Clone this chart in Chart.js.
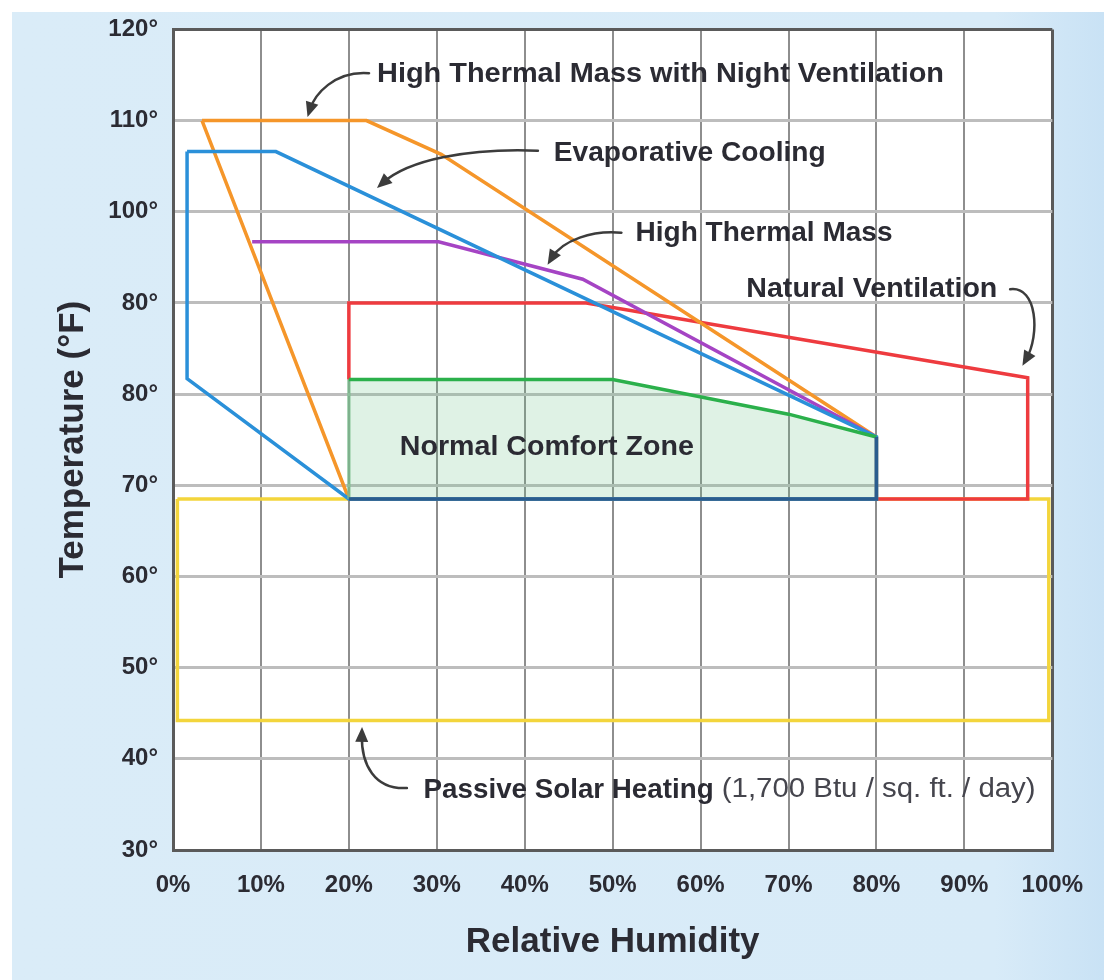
<!DOCTYPE html>
<html>
<head>
<meta charset="utf-8">
<title>Passive Design Strategies</title>
<script src="https://cdn.jsdelivr.net/npm/chart.js@4.4.1/dist/chart.umd.min.js"></script>
<style>
  html, body { margin: 0; padding: 0; background: #fff; }
  #wrap { width: 1104px; height: 980px; }
</style>
</head>
<body>
<div id="wrap"><canvas id="chart" width="1104" height="980"></canvas></div>
<script>
// axis ticks
var rhTicks = [0, 10, 20, 30, 40, 50, 60, 70, 80, 90, 100];
var tempTicks = [30, 40, 50, 60, 70, 80, 90, 100, 110, 120];
var tempTickLabels = ['30°', '40°', '50°', '60°', '70°', '80°', '80°', '100°', '110°', '120°'];

// zone outlines: relative humidity (%) / temperature (°F)
var nightVentRH   = [3.3, 22, 30.5, 80, 80, 20, 3.3];
var nightVentTemp = [110, 110, 106.3, 75.3, 68.5, 68.5, 110];

var evapRH   = [1.6, 11.7, 80, 80, 20, 1.6, 1.6];
var evapTemp = [106.6, 106.6, 75.3, 68.5, 68.5, 81.7, 106.6];

var massRH   = [9, 30.2, 46.6, 80];
var massTemp = [96.7, 96.7, 92.6, 75.3];

var ventRH   = [20, 20, 47, 97.2, 97.2, 80];
var ventTemp = [81.6, 90, 90, 81.8, 68.5, 68.5];

var comfortRH   = [20, 20, 50, 70, 80, 80, 20];
var comfortTemp = [68.5, 81.6, 81.6, 77.8, 75.3, 68.5, 68.5];

var solarRH   = [0.5, 99.6, 99.6, 0.5, 0.5];
var solarTemp = [68.5, 68.5, 44.2, 44.2, 68.5];

var FONT = '"Liberation Sans", Arial, Helvetica, sans-serif';
var INK = '#2b2b33';

function toPoints(xs, ys) {
  return xs.map(function(x, i) { return { x: x, y: ys[i] }; });
}

// edge colours of the comfort zone, one per segment
var comfortEdges = ['rgba(120,190,140,0.7)', '#2bb04b', '#2bb04b', '#2bb04b', '#2b5d8e', '#2b5d8e'];

// callouts: text anchor and arrow (bezier) in data units
var notes = [
  { text: 'High Thermal Mass with Night Ventilation', rh: 23.2, temp: 115.1, width: 567,
    arrow: [[22.3, 115.2], [18.3, 115.5], [16.1, 112.8], [15.3, 110.4]] },
  { text: 'Evaporative Cooling', rh: 43.3, temp: 106.4, width: 272,
    arrow: [[41.5, 106.7], [33.6, 107.0], [26.8, 105.7], [23.2, 102.6]] },
  { text: 'High Thermal Mass', rh: 52.6, temp: 97.6, width: 257,
    arrow: [[51.0, 97.7], [47.7, 98.0], [44.3, 96.9], [42.6, 94.2]] },
  { text: 'Natural Ventilation', rh: 65.2, temp: 91.5, width: 251,
    arrow: [[95.2, 91.5], [98.3, 91.9], [98.6, 86.5], [96.6, 83.1]] },
  { text: 'Normal Comfort Zone', rh: 25.8, temp: 74.2, width: 294 },
  { text: 'Passive Solar Heating', rh: 28.5, temp: 36.6, width: 290,
    after: ' (1,700 Btu / sq. ft. / day)', afterWidth: 322,
    arrow: [[26.6, 36.8], [22.9, 36.6], [21.4, 39.4], [21.5, 43.5]] }
];

function fitText(ctx, text, x, y, width) {
  var w = ctx.measureText(text).width;
  var sx = width ? width / w : 1;
  ctx.save();
  ctx.translate(x, y);
  ctx.scale(sx, 1);
  ctx.fillText(text, 0, 0);
  ctx.restore();
  return w * sx;
}

function drawArrow(ctx, p) {
  ctx.beginPath();
  ctx.moveTo(p[0][0], p[0][1]);
  var ang = Math.atan2(p[3][1] - p[2][1], p[3][0] - p[2][0]);
  var ex = p[3][0] - 8 * Math.cos(ang), ey = p[3][1] - 8 * Math.sin(ang);
  ctx.bezierCurveTo(p[1][0], p[1][1], p[2][0], p[2][1], ex, ey);
  ctx.stroke();
  var len = 15, half = 6.5;
  var bx = p[3][0] - len * Math.cos(ang), by = p[3][1] - len * Math.sin(ang);
  ctx.beginPath();
  ctx.moveTo(p[3][0], p[3][1]);
  ctx.lineTo(bx + half * Math.sin(ang), by - half * Math.cos(ang));
  ctx.lineTo(bx - half * Math.sin(ang), by + half * Math.cos(ang));
  ctx.closePath();
  ctx.fill();
}

var backdrop = {
  id: 'backdrop',
  beforeDraw: function(chart) {
    var ctx = chart.ctx, a = chart.chartArea;
    ctx.save();
    ctx.fillStyle = '#ffffff';
    ctx.fillRect(0, 0, chart.width, chart.height);
    var g = ctx.createLinearGradient(12, 0, chart.width, 0);
    g.addColorStop(0, '#daecf8');
    g.addColorStop(0.9, '#d8ebf8');
    g.addColorStop(1, '#c9e2f5');
    ctx.fillStyle = g;
    ctx.fillRect(12, 12, chart.width - 12, chart.height - 12);
    ctx.fillStyle = '#ffffff';
    ctx.fillRect(a.left, a.top, a.right - a.left, a.bottom - a.top);
    ctx.restore();
  }
};

var callouts = {
  id: 'callouts',
  afterDatasetsDraw: function(chart) {
    var ctx = chart.ctx, xs = chart.scales.x, ys = chart.scales.y;
    ctx.save();
    ctx.strokeStyle = '#3c3c3c';
    ctx.fillStyle = '#3c3c3c';
    ctx.lineWidth = 2.5;
    ctx.lineCap = 'round';
    notes.forEach(function(n) {
      if (n.arrow) {
        drawArrow(ctx, n.arrow.map(function(q) {
          return [xs.getPixelForValue(q[0]), ys.getPixelForValue(q[1])];
        }));
      }
    });
    ctx.textBaseline = 'middle';
    ctx.textAlign = 'left';
    notes.forEach(function(n) {
      var x = xs.getPixelForValue(n.rh), y = ys.getPixelForValue(n.temp);
      ctx.fillStyle = INK;
      ctx.font = 'bold 28px ' + FONT;
      var w = fitText(ctx, n.text, x, y, n.width);
      if (n.after) {
        ctx.fillStyle = '#45454d';
        ctx.font = '27px ' + FONT;
        fitText(ctx, n.after, x + w, y, n.afterWidth);
      }
    });
    ctx.restore();
  }
};

function zone(label, xs, ys, color, order) {
  return {
    label: label,
    data: toPoints(xs, ys),
    showLine: true,
    borderColor: color,
    borderWidth: 3.5,
    borderJoinStyle: 'miter',
    pointRadius: 0,
    fill: false,
    tension: 0,
    order: order
  };
}

var comfort = zone('Normal Comfort Zone', comfortRH, comfortTemp, '#2bb04b', 0);
comfort.segment = {
  borderColor: function(c) { return comfortEdges[c.p0DataIndex]; }
};

// shaded area under the comfort zone's upper edge, down to its floor
var comfortShade = zone('', comfortRH.slice(1, 5), comfortTemp.slice(1, 5), 'rgba(0,0,0,0)', 6);
comfortShade.borderWidth = 0;
comfortShade.fill = { value: comfortTemp[0] };
comfortShade.backgroundColor = 'rgba(110, 195, 135, 0.22)';

function edgeColor(ctx, lo, hi) {
  var v = ctx.tick ? ctx.tick.value : null;
  return v === lo || v === hi;
}

new Chart(document.getElementById('chart'), {
  type: 'scatter',
  data: {
    datasets: [
      comfort,
      zone('Evaporative Cooling', evapRH, evapTemp, '#2a90d9', 1),
      zone('High Thermal Mass', massRH, massTemp, '#a544c4', 2),
      zone('High Thermal Mass with Night Ventilation', nightVentRH, nightVentTemp, '#f5962a', 3),
      zone('Natural Ventilation', ventRH, ventTemp, '#ee3b3f', 4),
      zone('Passive Solar Heating', solarRH, solarTemp, '#f3d53c', 5),
      comfortShade
    ]
  },
  options: {
    responsive: false,
    animation: false,
    layout: { padding: { top: 29, right: 47, left: 0, bottom: 0 } },
    plugins: {
      legend: { display: false },
      tooltip: { enabled: false }
    },
    scales: {
      x: {
        type: 'linear',
        min: 0,
        max: 100,
        afterFit: function(s) { s.height = 130; },
        afterBuildTicks: function(s) { s.ticks = rhTicks.map(function(v) { return { value: v }; }); },
        ticks: {
          padding: 21,
          color: INK,
          font: { family: FONT, size: 24, weight: 'bold' },
          callback: function(v) { return v + '%'; }
        },
        grid: {
          drawTicks: false,
          color: function(c) { return edgeColor(c, 0, 100) ? '#5a5a5a' : '#8e8e8e'; },
          lineWidth: function(c) { return edgeColor(c, 0, 100) ? 3 : 2; }
        },
        border: { color: '#5a5a5a', width: 3 },
        title: {
          display: true,
          text: 'Relative Humidity',
          color: INK,
          font: { family: FONT, size: 35, weight: 'bold' },
          padding: { top: 0, bottom: 17 }
        }
      },
      y: {
        type: 'linear',
        min: 30,
        max: 120,
        afterFit: function(s) { s.width = 173; },
        afterBuildTicks: function(s) { s.ticks = tempTicks.map(function(v) { return { value: v }; }); },
        ticks: {
          padding: 15,
          color: INK,
          font: { family: FONT, size: 24, weight: 'bold' },
          callback: function(v) {
            var i = tempTicks.indexOf(v);
            return i >= 0 ? tempTickLabels[i] : '';
          }
        },
        grid: {
          drawTicks: false,
          color: function(c) { return edgeColor(c, 30, 120) ? '#5a5a5a' : '#bdbdbd'; },
          lineWidth: 3
        },
        border: { color: '#5a5a5a', width: 3 },
        title: {
          display: true,
          text: 'Temperature (°F)',
          color: INK,
          font: { family: FONT, size: 35, weight: 'bold' },
          padding: { top: 52, bottom: 0 }
        }
      }
    }
  },
  plugins: [backdrop, callouts]
});
</script>
</body>
</html>
